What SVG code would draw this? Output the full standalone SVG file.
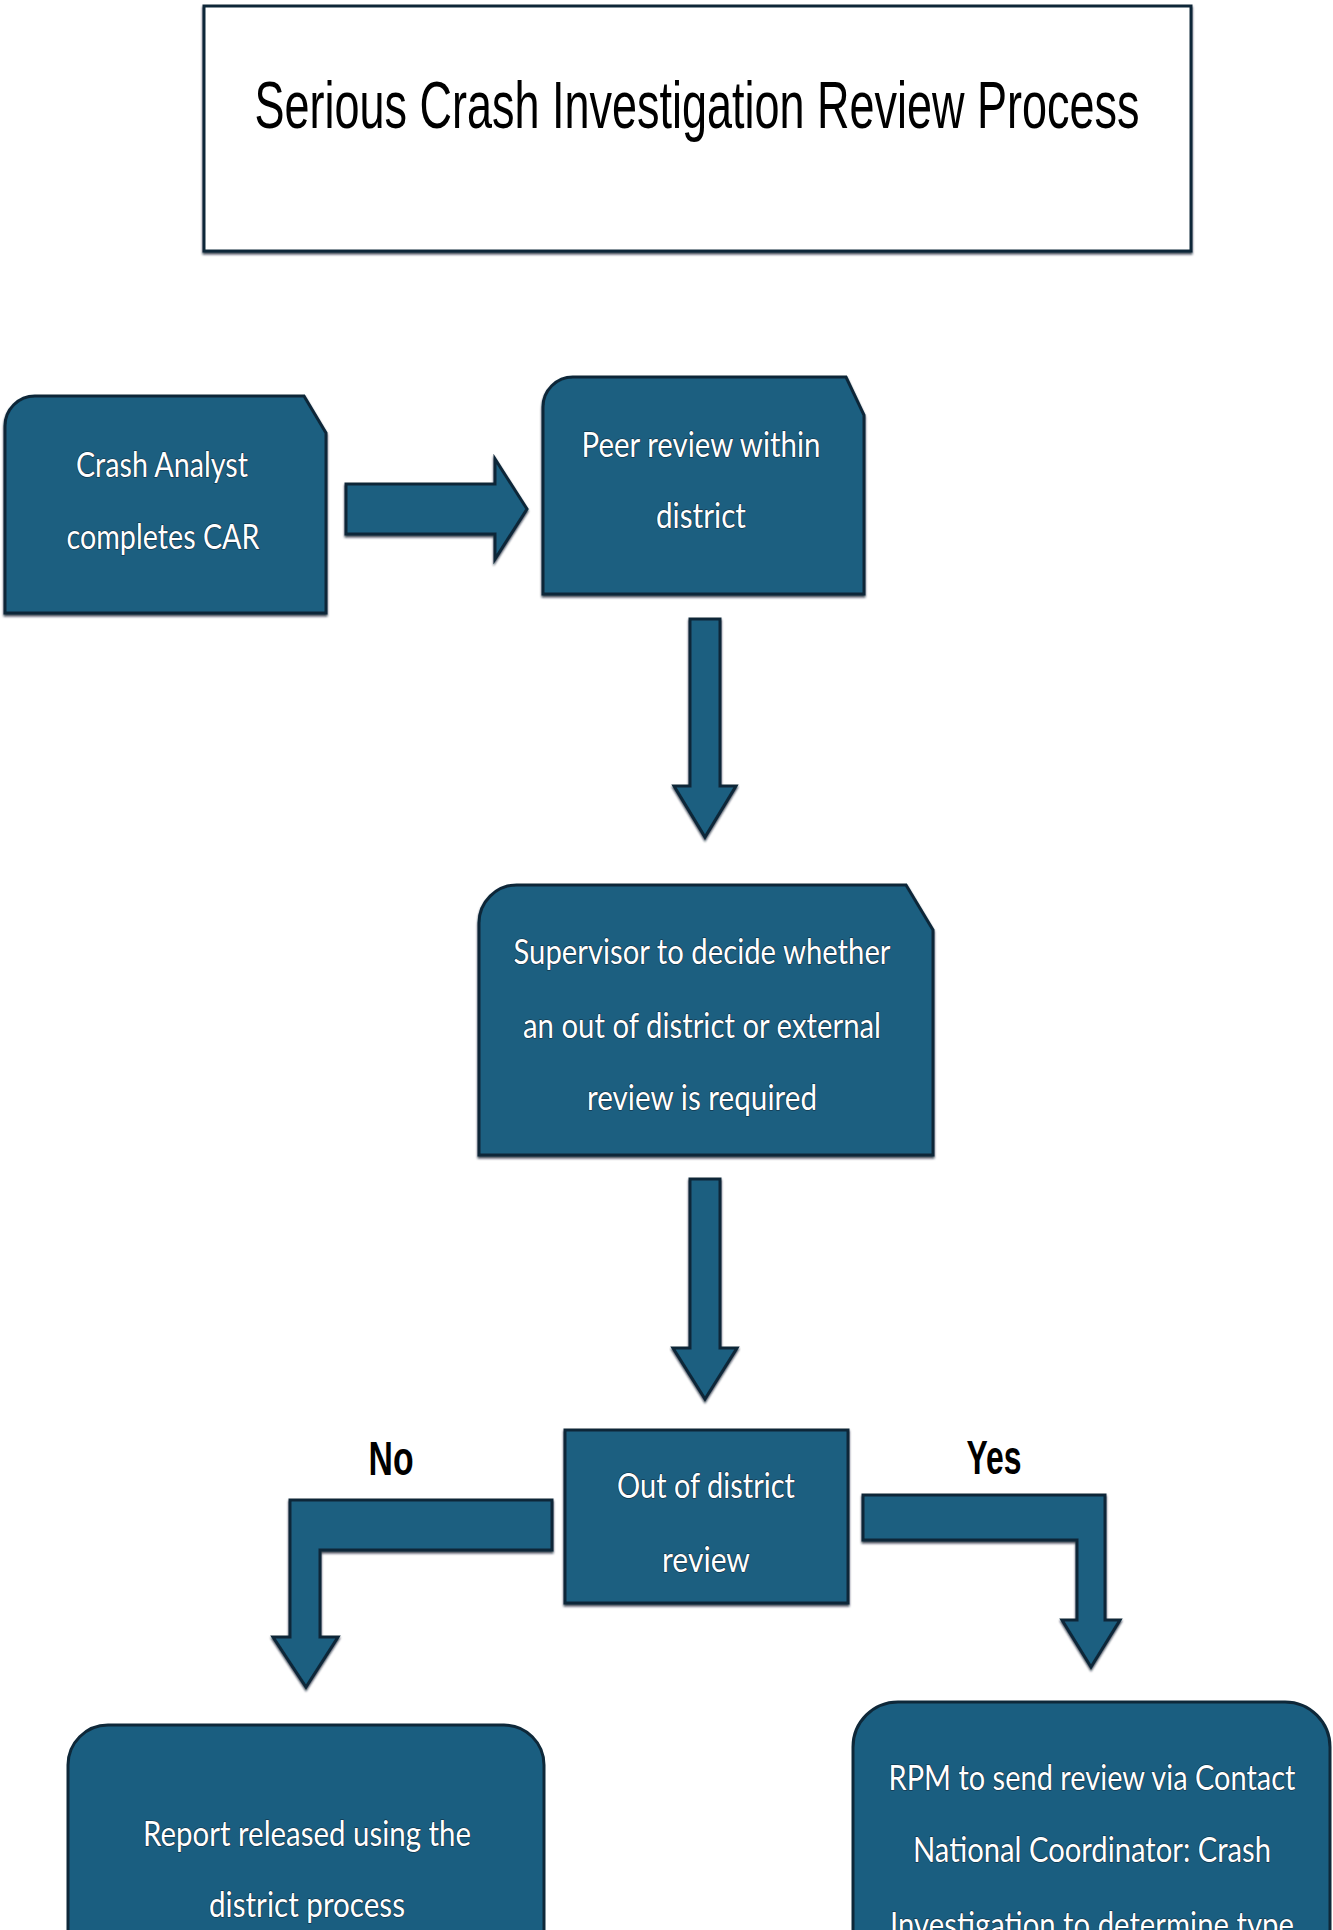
<svg xmlns="http://www.w3.org/2000/svg" width="1333" height="1930" viewBox="0 0 1333 1930">
  <defs>
    <filter id="sh" x="-5%" y="-5%" width="110%" height="115%">
      <feDropShadow dx="0" dy="2" stdDeviation="0.8" flood-color="#0a1e2a" flood-opacity="0.8"/>
    </filter>
  </defs>
  <style>
    .node { fill: #1a5e80; stroke: #0e2839; stroke-width: 3; stroke-linejoin: miter; }
    .arrow { fill: #1a5e80; stroke: #0e2839; stroke-width: 3; stroke-linejoin: miter; }
    .lbl { font-family: Lato, "Liberation Sans", sans-serif; font-size: 35px; fill: #ffffff; text-anchor: middle; stroke: #0e2839; stroke-width: 1.2; paint-order: stroke fill; }
    .yn { font-family: "Liberation Sans", Arial, sans-serif; font-weight: bold; font-size: 48px; fill: #000000; text-anchor: middle; }
    .title { font-family: "Liberation Sans", Arial, sans-serif; font-size: 66px; fill: #000000; text-anchor: middle; }
  </style>
  <rect width="1333" height="1930" fill="#ffffff"/>

  <g id="title">
    <rect x="204" y="6" width="987" height="245" fill="#ffffff" stroke="#0e2839" stroke-width="3" filter="url(#sh)"/>
    <text class="title" x="697" y="128" textLength="885" lengthAdjust="spacingAndGlyphs">Serious Crash Investigation Review Process</text>
  </g>

  <g id="connectors">
    <path class="arrow" filter="url(#sh)" d="M346,484 L495,484 L495,459 L527,509 L495,559 L495,534 L346,534 Z"/>
    <path class="arrow" filter="url(#sh)" d="M690,619 L720,619 L720,786 L736,786 L705,837 L674,786 L690,786 Z"/>
    <path class="arrow" filter="url(#sh)" d="M690,1179 L720,1179 L720,1348 L737,1348 L705,1399 L673,1348 L690,1348 Z"/>
    <path class="arrow" filter="url(#sh)" d="M552,1500 L290,1500 L290,1637 L273,1637 L306,1687 L338,1637 L320,1637 L320,1550 L552,1550 Z"/>
    <path class="arrow" filter="url(#sh)" d="M863,1495 L1105,1495 L1105,1620 L1120,1620 L1091,1667 L1062,1620 L1077,1620 L1077,1540 L863,1540 Z"/>
    <text class="yn" x="391" y="1475" textLength="45" lengthAdjust="spacingAndGlyphs">No</text>
    <text class="yn" x="994" y="1474" textLength="55" lengthAdjust="spacingAndGlyphs">Yes</text>
  </g>

  <g id="node-crash-analyst">
    <path class="node" filter="url(#sh)" d="M5,426 A30,30 0 0 1 35,396 L304,396 L326,433 L326,613 L5,613 Z"/>
    <text class="lbl" x="162" y="477" textLength="172" lengthAdjust="spacingAndGlyphs">Crash Analyst</text>
    <text class="lbl" x="163" y="549" textLength="193" lengthAdjust="spacingAndGlyphs">completes CAR</text>
  </g>

  <g id="node-peer-review">
    <path class="node" filter="url(#sh)" d="M543,407 A30,30 0 0 1 573,377 L846,377 L864,415 L864,594 L543,594 Z"/>
    <text class="lbl" x="701" y="457" textLength="239" lengthAdjust="spacingAndGlyphs">Peer review within</text>
    <text class="lbl" x="701" y="528" textLength="90" lengthAdjust="spacingAndGlyphs">district</text>
  </g>

  <g id="node-supervisor">
    <path class="node" filter="url(#sh)" d="M479,923 A38,38 0 0 1 517,885 L906,885 L933,930 L933,1155 L479,1155 Z"/>
    <text class="lbl" x="702" y="964" textLength="377" lengthAdjust="spacingAndGlyphs">Supervisor to decide whether</text>
    <text class="lbl" x="702" y="1038" textLength="358" lengthAdjust="spacingAndGlyphs">an out of district or external</text>
    <text class="lbl" x="702" y="1110" textLength="230" lengthAdjust="spacingAndGlyphs">review is required</text>
  </g>

  <g id="node-out-of-district">
    <rect class="node" filter="url(#sh)" x="565" y="1430" width="283" height="173"/>
    <text class="lbl" x="706" y="1498" textLength="178" lengthAdjust="spacingAndGlyphs">Out of district</text>
    <text class="lbl" x="706" y="1572" textLength="88" lengthAdjust="spacingAndGlyphs">review</text>
  </g>

  <g id="node-report-released">
    <path class="node" d="M68,1765 A40,40 0 0 1 108,1725 L504,1725 A40,40 0 0 1 544,1765 L544,1960 L68,1960 Z"/>
    <text class="lbl" x="307" y="1846" textLength="328" lengthAdjust="spacingAndGlyphs">Report released using the</text>
    <text class="lbl" x="307" y="1917" textLength="196" lengthAdjust="spacingAndGlyphs">district process</text>
  </g>

  <g id="node-rpm">
    <path class="node" d="M853,1747 A45,45 0 0 1 898,1702 L1285,1702 A45,45 0 0 1 1330,1747 L1330,1960 L853,1960 Z"/>
    <text class="lbl" x="1092" y="1790" textLength="407" lengthAdjust="spacingAndGlyphs">RPM to send review via Contact</text>
    <text class="lbl" x="1092" y="1862" textLength="358" lengthAdjust="spacingAndGlyphs">National Coordinator: Crash</text>
    <text class="lbl" x="1092" y="1937" textLength="404" lengthAdjust="spacingAndGlyphs">Investigation to determine type</text>
  </g>
</svg>
